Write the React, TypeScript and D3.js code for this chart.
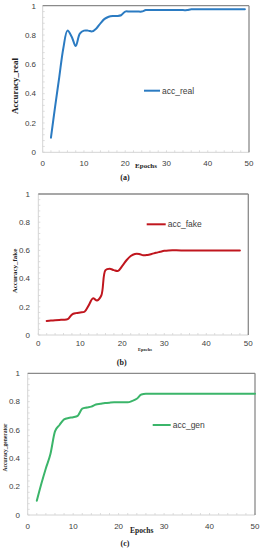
import React from "react";
import * as d3 from "d3";

// ---- data ----
const epochsReal = [2,3,4,5,6,7,8,9,10,11,12,13,14,15,16,17,18,19,20,21,22,23,24,25,26,28,30,32,34,35,36,38,40,42,44,46,48,49];
const accReal = [0.10,0.31,0.51,0.71,0.83,0.79,0.725,0.81,0.83,0.83,0.825,0.845,0.88,0.91,0.925,0.93,0.93,0.935,0.96,0.96,0.96,0.96,0.96,0.97,0.97,0.97,0.97,0.97,0.97,0.97,0.975,0.975,0.975,0.975,0.975,0.975,0.975,0.975];

const epochsFake = [2,3,4,5,6,7,8,9,10,11,12,13,14,15,16,17,18,19,20,21,22,23,24,25,26,27,28,29,30,31,34,38,42,46,48];
const accFake = [0.10,0.102,0.105,0.107,0.108,0.112,0.145,0.155,0.16,0.165,0.21,0.26,0.245,0.28,0.46,0.47,0.46,0.455,0.49,0.53,0.56,0.575,0.575,0.565,0.568,0.575,0.583,0.59,0.597,0.60,0.60,0.60,0.60,0.60,0.60];

const epochsGen = [2,3,4,5,6,7,8,9,10,11,12,13,14,15,16,17,18,19,20,21,22,23,24,25,26,30,35,40,45,50];
const accGen = [0.10,0.22,0.33,0.43,0.59,0.635,0.675,0.685,0.69,0.70,0.75,0.758,0.765,0.78,0.785,0.79,0.793,0.795,0.795,0.795,0.795,0.805,0.82,0.85,0.855,0.855,0.855,0.855,0.855,0.855];

const xTicks = [0,10,20,30,40,50];
const yTicks = [0,0.2,0.4,0.6,0.8,1];
const yTickLabels = ["0","0.2","0.4","0.6","0.8","1"];

type PanelCfg = {
  xs: number[]; ys: number[]; color: string; legend: string; yTitle: string; caption: string;
  x0: number; x1: number; yTop: number; yBot: number; yLabRight: number; xLabBase: number;
  legX: number; legY: number; legLen: number;
  epX: number; epY: number; epSize: number;
  ytX: number; ytY: number; ytSize: number;
  capX: number; capY: number; curve: any;
};

const panels: PanelCfg[] = [
  { xs: epochsReal, ys: accReal, color: "#2b7bc2", legend: "acc_real", yTitle: "Accuracy_real", caption: "(a)",
    x0: 42.7, x1: 249, yTop: 5.7, yBot: 152.3, yLabRight: 36, xLabBase: 166,
    legX: 144, legY: 90.7, legLen: 16, epX: 146, epY: 167.5, epSize: 7,
    ytX: 17.5, ytY: 86, ytSize: 9, capX: 125, capY: 180, curve: d3.curveCatmullRom.alpha(0.5) },
  { xs: epochsFake, ys: accFake, color: "#c0161e", legend: "acc_fake", yTitle: "Accuracy_fake", caption: "(b)",
    x0: 38.3, x1: 248.3, yTop: 194, yBot: 335, yLabRight: 30, xLabBase: 346,
    legX: 146.7, legY: 224.3, legLen: 19, epX: 145, epY: 350.5, epSize: 4.5,
    ytX: 17, ytY: 271, ytSize: 7, capX: 121.7, capY: 365, curve: d3.curveCatmullRom.alpha(0.5) },
  { xs: epochsGen, ys: accGen, color: "#3bb56a", legend: "acc_gen", yTitle: "Accuracy_generator", caption: "(c)",
    x0: 27.7, x1: 255, yTop: 373.3, yBot: 515, yLabRight: 20, xLabBase: 528.5,
    legX: 152.7, legY: 425, legLen: 18, epX: 141.7, epY: 533, epSize: 7.5,
    ytX: 6.5, ytY: 447.5, ytSize: 5.5, capX: 125, capY: 546, curve: d3.curveMonotoneX },
];

const sans = "'Liberation Sans', Arial, sans-serif";
const serif = "'Liberation Serif', 'Times New Roman', serif";

function Panel({ c }: { c: PanelCfg }) {
  const x = d3.scaleLinear().domain([0, 50]).range([c.x0, c.x1]);
  const y = d3.scaleLinear().domain([0, 1]).range([c.yBot, c.yTop]);
  const line = d3.line<number>().x((_, i) => x(c.xs[i])).y((d) => y(d)).curve(c.curve);
  const xMinor = d3.range(0, 50.01, 2);
  const yMinor = d3.range(0, 1.001, 0.04);
  return (
    <g>
      {/* axes */}
      <line x1={c.x0} x2={c.x0} y1={c.yTop} y2={c.yBot} stroke="#d4d4d4" strokeWidth={1} />
      <line x1={c.x0} x2={c.x1} y1={c.yBot} y2={c.yBot} stroke="#d4d4d4" strokeWidth={1} />
      {xMinor.map((t) => (
        <line key={"xm" + t} x1={x(t)} x2={x(t)} y1={c.yBot} y2={c.yBot - 2} stroke="#d4d4d4" strokeWidth={0.8} />
      ))}
      {yMinor.map((t) => (
        <line key={"ym" + t} x1={c.x0} x2={c.x0 + 2} y1={y(t)} y2={y(t)} stroke="#d4d4d4" strokeWidth={0.8} />
      ))}
      <line x1={c.x0} x2={c.x1} y1={c.yTop} y2={c.yTop} stroke="#8a8a8a" strokeWidth={1.3} />
      <line x1={c.x1} x2={c.x1} y1={c.yTop} y2={c.yBot} stroke="#8a8a8a" strokeWidth={1.3} />
      {/* tick labels */}
      {yTicks.map((t, i) => (
        <text key={"yt" + t} x={c.yLabRight} y={y(t) + 2.8} textAnchor="end" fontFamily={sans} fontSize={8} fill="#404040">
          {yTickLabels[i]}
        </text>
      ))}
      {xTicks.map((t) => (
        <text key={"xt" + t} x={x(t)} y={c.xLabBase} textAnchor="middle" fontFamily={sans} fontSize={8} fill="#404040">
          {t}
        </text>
      ))}
      {/* series */}
      <path d={line(c.ys) || ""} fill="none" stroke={c.color} strokeWidth={2} strokeLinejoin="round" strokeLinecap="round" />
      {/* legend */}
      <line x1={c.legX} x2={c.legX + c.legLen} y1={c.legY} y2={c.legY} stroke={c.color} strokeWidth={2} />
      <text x={c.legX + c.legLen + 2} y={c.legY + 2.9} fontFamily={sans} fontSize={8.5} fill="#404040">{c.legend}</text>
      {/* titles */}
      <text x={c.epX} y={c.epY} textAnchor="middle" fontFamily={serif} fontWeight="bold" fontSize={c.epSize} fill="#222">Epochs</text>
      <text transform={`translate(${c.ytX},${c.ytY}) rotate(-90)`} textAnchor="middle" fontFamily={serif} fontWeight="bold" fontSize={c.ytSize} fill="#222">
        {c.yTitle}
      </text>
      <text x={c.capX} y={c.capY} textAnchor="middle" fontFamily={serif} fontWeight="bold" fontSize={8} fill="#222">{c.caption}</text>
    </g>
  );
}

export default function App() {
  return (
    <div style={{ position: "fixed", left: 0, top: 0, width: 263, height: 550, background: "#fff" }}>
      <svg width={263} height={550} style={{ display: "block" }}>
        <rect width={263} height={550} fill="#fff" />
        {panels.map((c, i) => (
          <Panel key={i} c={c} />
        ))}
      </svg>
    </div>
  );
}
